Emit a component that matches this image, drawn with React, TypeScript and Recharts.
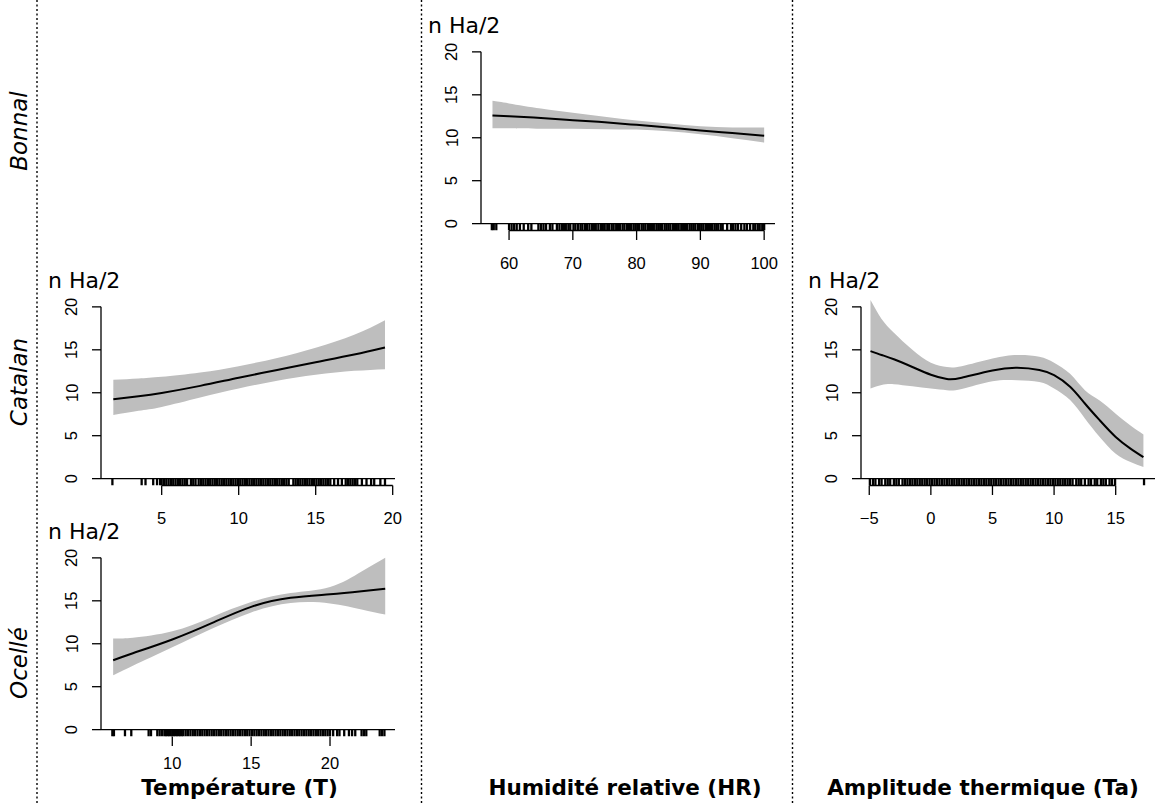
import React from 'react'
import { ComposedChart, Area, Line, Scatter, XAxis, YAxis, ReferenceLine } from 'recharts'

// textes
const yLabel = 'n Ha/2'
const species = ['Bonnal', 'Catalan', 'Ocellé']
const variables = ['Température (T)', 'Humidité relative (HR)', 'Amplitude thermique (Ta)']
const yTicks = [0, 5, 10, 15, 20]

// Bonnal ~ humidité relative
const hrX = [57.4, 60, 65, 70, 75, 80, 85, 90, 95, 100]
const hrFit = [12.6, 12.5, 12.3, 12.05, 11.8, 11.5, 11.2, 10.85, 10.55, 10.23]
const hrLo = [11.1, 11.1, 11.05, 11.05, 11.0, 10.95, 10.75, 10.4, 9.95, 9.45]
const hrHi = [14.3, 14.0, 13.4, 12.9, 12.45, 12.0, 11.65, 11.35, 11.2, 11.2]
const hrRug = [57.3, 57.6, 58.0, 60.0, 60.4, 60.8, 61.2, 61.7, 62.3, 63.0, 63.5, 64.6, 65.0, 65.4, 65.8, 66.4, 66.8, 67.5, 67.9, 68.3, 68.6, 68.9, 69.3, 69.6, 70.1, 70.4, 70.8, 71.2, 71.5, 71.9, 72.2, 72.6, 73.0, 73.3, 73.6, 74.0, 74.4, 74.7, 75.0, 75.4, 75.7, 76.1, 76.4, 76.8, 77.1, 77.4, 77.8, 78.1, 78.5, 78.8, 79.1, 79.5, 79.8, 80.1, 80.4, 80.8, 81.1, 81.4, 81.8, 82.1, 82.4, 82.7, 83.1, 83.4, 83.7, 84.0, 84.4, 84.7, 85.0, 85.3, 85.7, 86.0, 86.3, 86.6, 87.0, 87.3, 87.6, 87.9, 88.3, 88.6, 88.9, 89.2, 89.6, 89.9, 90.2, 90.5, 90.9, 91.2, 91.5, 91.8, 92.2, 92.5, 92.8, 93.2, 93.5, 94.2, 94.8, 95.1, 95.5, 95.9, 96.4, 96.9, 97.3, 97.8, 98.3, 98.6, 99.0, 99.3, 99.7, 100.0]
const hrTicks = [60, 70, 80, 90, 100]

// Catalan ~ température
const catTX = [1.86, 3.5, 5, 7.5, 10, 12.5, 15, 17.5, 19.5]
const catTFit = [9.25, 9.6, 9.98, 10.8, 11.75, 12.65, 13.55, 14.45, 15.27]
const catTLo = [7.4, 7.9, 8.35, 9.45, 10.5, 11.4, 12.1, 12.55, 12.75]
const catTHi = [11.5, 11.65, 11.85, 12.35, 13.1, 14.05, 15.25, 16.75, 18.45]
const catTRug = [1.8, 3.7, 3.95, 4.45, 4.7, 4.9, 5.0, 5.15, 5.3, 5.45, 5.6, 5.75, 5.9, 6.05, 6.2, 6.35, 6.5, 6.65, 6.9, 7.05, 7.2, 7.4, 7.55, 7.7, 7.85, 8.0, 8.15, 8.3, 8.45, 8.6, 8.75, 8.9, 9.05, 9.2, 9.35, 9.5, 9.65, 9.8, 9.95, 10.1, 10.25, 10.4, 10.55, 10.7, 10.85, 11.0, 11.15, 11.3, 11.45, 11.6, 11.75, 11.9, 12.05, 12.2, 12.35, 12.5, 12.65, 12.8, 12.95, 13.1, 13.25, 13.55, 13.7, 13.85, 14.0, 14.15, 14.3, 14.45, 14.6, 14.75, 14.9, 15.05, 15.2, 15.35, 15.5, 15.65, 15.8, 15.95, 16.2, 16.45, 16.7, 16.95, 17.1, 17.25, 17.4, 17.55, 17.7, 18.0, 18.3, 18.6, 18.8, 19.2, 19.5]
const catTTicks = [5, 10, 15, 20]

// Ocellé ~ température
const ocTX = [6.25, 7.5, 10, 12.5, 15, 17.5, 20, 22, 23.5]
const ocTFit = [8.08, 8.9, 10.5, 12.4, 14.3, 15.35, 15.75, 16.1, 16.4]
const ocTLo = [6.33, 7.45, 9.6, 11.75, 13.65, 14.75, 14.7, 14.0, 13.4]
const ocTHi = [10.6, 10.7, 11.45, 13.1, 14.85, 15.9, 16.6, 18.4, 20.0]
const ocTRug = [6.2, 6.3, 7.0, 7.4, 8.5, 8.65, 9.05, 9.2, 9.35, 9.5, 9.6, 9.7, 9.8, 9.9, 10.0, 10.1, 10.2, 10.3, 10.4, 10.5, 10.6, 10.7, 10.85, 11.0, 11.15, 11.3, 11.45, 11.6, 11.75, 11.9, 12.05, 12.2, 12.35, 12.5, 12.65, 12.8, 12.95, 13.1, 13.25, 13.4, 13.55, 13.7, 13.85, 14.0, 14.15, 14.3, 14.45, 14.6, 14.75, 14.9, 15.05, 15.2, 15.35, 15.5, 15.65, 15.8, 15.95, 16.1, 16.25, 16.4, 16.55, 16.7, 16.85, 17.0, 17.15, 17.3, 17.45, 17.6, 17.75, 17.9, 18.05, 18.2, 18.35, 18.5, 18.65, 18.8, 18.95, 19.1, 19.25, 19.4, 19.55, 19.7, 19.85, 20.0, 20.2, 20.45, 20.6, 20.9, 21.2, 21.4, 21.6, 22.0, 22.15, 22.3, 23.15, 23.3, 23.45]
const ocTTicks = [10, 15, 20]

// Catalan ~ amplitude thermique
const catTaX = [-4.9, -4, -3, -1.5, 0, 1.3, 2.5, 5, 7, 8.8, 10, 11.3, 12.5, 13.7, 15, 16.2, 17.25]
const catTaFit = [14.85, 14.4, 13.9, 13.0, 12.1, 11.6, 11.75, 12.6, 12.9, 12.65, 12.05, 10.7, 8.75, 6.8, 4.85, 3.5, 2.5]
const catTaLo = [10.5, 10.9, 11.0, 10.75, 10.5, 10.3, 10.45, 11.35, 11.45, 11.25, 10.5, 9.15, 7.0, 4.85, 2.9, 1.95, 1.35]
const catTaHi = [20.8, 18.6, 17.0, 15.0, 13.5, 13.0, 13.1, 14.0, 14.4, 14.2, 13.5, 12.2, 10.3, 9.1, 7.55, 6.2, 5.15]
const catTaRug = [-4.95, -4.7, -4.5, -4.2, -4.0, -3.7, -3.5, -3.3, -3.0, -2.8, -2.6, -2.3, -2.1, -1.9, -1.7, -1.5, -1.3, -1.1, -0.9, -0.7, -0.5, -0.3, -0.1, 0.1, 0.3, 0.5, 0.7, 0.9, 1.1, 1.3, 1.5, 1.7, 1.9, 2.1, 2.3, 2.5, 2.7, 2.9, 3.1, 3.3, 3.5, 3.7, 3.9, 4.1, 4.3, 4.5, 4.7, 4.9, 5.1, 5.3, 5.5, 5.7, 5.9, 6.1, 6.3, 6.5, 6.7, 6.9, 7.1, 7.3, 7.5, 7.7, 7.9, 8.1, 8.3, 8.5, 8.7, 8.9, 9.1, 9.3, 9.5, 9.7, 9.9, 10.1, 10.3, 10.5, 10.7, 10.9, 11.1, 11.3, 11.5, 11.8, 12.0, 12.2, 12.5, 12.8, 13.0, 13.3, 13.5, 13.8, 14.0, 14.2, 14.5, 14.7, 14.95, 17.3]
const catTaTicks = [-5, 0, 5, 10, 15]

const TICK_FONT = '"Liberation Sans", Arial, Helvetica, sans-serif'
const LABEL_FONT = '"DejaVu Sans", Verdana, sans-serif'
const BAND = '#bebebe'

// marges autour de la zone de tracé
const ML = 62
const MT = 45
const MR = 10
const MB = 50
const PLOT_W = 294
const PLOT_H = 185.5
const Y_DOMAIN: [number, number] = [-0.8, 20.8]

const fmt = (v: number) => (v < 0 ? '\u2212' + Math.abs(v) : String(v))

const XTick = (props: any) => {
  const { x, y, payload } = props
  return (
    <text x={x} y={y} textAnchor="middle" fontSize={16.5} fontFamily={TICK_FONT} fill="#000">
      {fmt(payload.value)}
    </text>
  )
}

const YTick = (props: any) => {
  const { x, y, payload } = props
  return (
    <text
      x={x}
      y={y}
      transform={`rotate(-90 ${x} ${y})`}
      textAnchor="middle"
      fontSize={16.5}
      fontFamily={TICK_FONT}
      fill="#000"
    >
      {payload.value}
    </text>
  )
}

const RugMark = (props: any) => {
  const { cx, cy } = props
  return <line x1={cx} x2={cx} y1={cy} y2={cy - 7} stroke="#000" strokeWidth={2.3} />
}

const YTitle = (props: any) => {
  const vb = props.viewBox || {}
  return (
    <text x={vb.x + vb.width - 53} y={vb.y - 12.5} fontSize={22} fontFamily={LABEL_FONT} fill="#000">
      {yLabel}
    </text>
  )
}

interface PanelProps {
  left: number
  top: number
  xDomain: [number, number]
  xTicks: number[]
  xs: number[]
  fit: number[]
  lo: number[]
  hi: number[]
  rug: number[]
  xLine?: boolean
  labelGap?: number
}

function Panel({ left, top, xDomain, xTicks, xs, fit, lo, hi, rug, xLine = true, labelGap = 28.5 }: PanelProps) {
  const data = xs.map((x, i) => ({ x, fit: fit[i], band: [lo[i], hi[i]] }))
  const rugData = rug.map((x) => ({ x, y: Y_DOMAIN[0] }))
  return (
    <div style={{ position: 'absolute', left: left - ML, top: top - MT }}>
      <ComposedChart
        width={ML + PLOT_W + MR}
        height={MT + PLOT_H + MB}
        data={data}
        margin={{ top: MT, right: MR, bottom: 0, left: 0 }}
      >
        <XAxis
          type="number"
          dataKey="x"
          domain={xDomain}
          ticks={xTicks}
          interval={0}
          allowDataOverflow
          height={MB}
          stroke="#000"
          axisLine={false}
          tickLine={{ stroke: '#000', strokeWidth: 1.3 }}
          tickSize={9.5}
          tickMargin={labelGap}
          tick={XTick}
        />
        <YAxis
          type="number"
          dataKey="y"
          domain={Y_DOMAIN}
          ticks={yTicks}
          interval={0}
          allowDataOverflow
          width={ML}
          stroke="#000"
          axisLine={false}
          tickLine={{ stroke: '#000', strokeWidth: 1.3 }}
          tickSize={9}
          tickMargin={14.5}
          tick={YTick}
          label={YTitle}
        />
        <Area
          type="natural"
          dataKey="band"
          fill={BAND}
          fillOpacity={1}
          stroke="none"
          isAnimationActive={false}
        />
        <Line
          type="natural"
          dataKey="fit"
          stroke="#000"
          strokeWidth={2}
          dot={false}
          isAnimationActive={false}
        />
        <Scatter data={rugData} shape={RugMark} isAnimationActive={false} />
        <ReferenceLine y={0} stroke="#000" strokeWidth={1.3} />
        <ReferenceLine
          segment={[{ x: xDomain[0], y: 0 }, { x: xDomain[0], y: 20 }]}
          stroke="#000"
          strokeWidth={1.3}
          ifOverflow="visible"
        />
        {xLine && (
          <ReferenceLine
            segment={[
              { x: xTicks[0], y: Y_DOMAIN[0] },
              { x: xTicks[xTicks.length - 1], y: Y_DOMAIN[0] },
            ]}
            stroke="#000"
            strokeWidth={1.3}
            ifOverflow="visible"
          />
        )}
      </ComposedChart>
    </div>
  )
}

const dividers = [37, 421.5, 792.5]
const rowCenters = [131, 382, 663]
const colCenters = [239.5, 625, 983]

export default function App() {
  return (
    <div style={{ position: 'absolute', left: 0, top: 0, width: 1158, height: 805, background: '#fff' }}>
      <Panel left={481} top={45.1} xDomain={[55.6, 101.7]} xTicks={hrTicks} xs={hrX} fit={hrFit} lo={hrLo} hi={hrHi} rug={hrRug} />
      <Panel left={101} top={299.8} xDomain={[1.06, 20.15]} xTicks={catTTicks} xs={catTX} fit={catTFit} lo={catTLo} hi={catTHi} rug={catTRug} />
      <Panel left={101} top={551.4} xDomain={[5.48, 24.12]} xTicks={ocTTicks} xs={ocTX} fit={ocTFit} lo={ocTLo} hi={ocTHi} rug={ocTRug} xLine={false} labelGap={23} />
      <Panel left={861} top={299.8} xDomain={[-5.67, 18.19]} xTicks={catTaTicks} xs={catTaX} fit={catTaFit} lo={catTaLo} hi={catTaHi} rug={catTaRug} />
      <svg width={1158} height={805} style={{ position: 'absolute', left: 0, top: 0, pointerEvents: 'none' }}>
        {dividers.map((x) => (
          <line key={x} x1={x} x2={x} y1={0} y2={805} stroke="#000" strokeWidth={1.4} strokeDasharray="2 2.5" />
        ))}
        {species.map((s, i) => (
          <text
            key={s}
            x={27}
            y={rowCenters[i]}
            transform={`rotate(-90 27 ${rowCenters[i]})`}
            textAnchor="middle"
            fontSize={23}
            fontStyle="italic"
            fontFamily={LABEL_FONT}
            fill="#000"
          >
            {s}
          </text>
        ))}
        {variables.map((v, i) => (
          <text
            key={v}
            x={colCenters[i]}
            y={795}
            textAnchor="middle"
            fontSize={21.5}
            fontWeight="bold"
            fontFamily={LABEL_FONT}
            fill="#000"
          >
            {v}
          </text>
        ))}
      </svg>
    </div>
  )
}
